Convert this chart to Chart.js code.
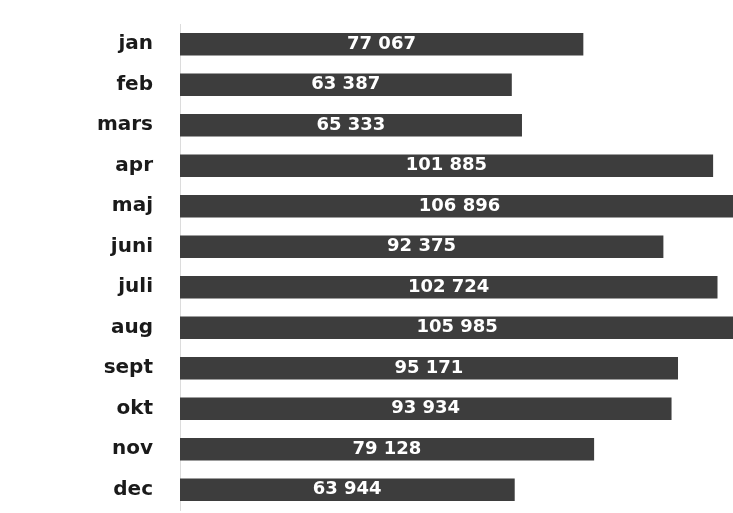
<!DOCTYPE html>
<html>
<head>
<meta charset="utf-8">
<script src="https://cdn.jsdelivr.net/npm/chart.js@4"></script>
<style>
html,body{margin:0;padding:0;background:#fff;overflow:hidden;}
canvas{display:block;}
</style>
</head>
<body>
<canvas id="c" width="733" height="513"></canvas>
<script>
const months = ["jan","feb","mars","apr","maj","juni","juli","aug","sept","okt","nov","dec"];
const values = [77067,63387,65333,101885,106896,92375,102724,105985,95171,93934,79128,63944];
const valueLabels = ["77 067","63 387","65 333","101 885","106 896","92 375","102 724","105 985","95 171","93 934","79 128","63 944"];

const labelPlugin = {
  id: 'barLabels',
  afterDatasetsDraw(chart) {
    const ctx = chart.ctx;
    const meta = chart.getDatasetMeta(0);
    ctx.save();
    ctx.fillStyle = '#ffffff';
    ctx.font = 'bold 18px "DejaVu Sans", sans-serif';
    ctx.textAlign = 'center';
    ctx.textBaseline = 'middle';
    meta.data.forEach((bar, i) => {
      const cx = (bar.base + bar.x) / 2;
      ctx.fillText(valueLabels[i], cx, bar.y);
    });
    ctx.restore();
  }
};

new Chart(document.getElementById('c'), {
  type: 'bar',
  data: {
    labels: months,
    datasets: [{
      data: values,
      backgroundColor: '#3d3d3d',
      barThickness: 22
    }]
  },
  options: {
    indexAxis: 'y',
    responsive: false,
    animation: false,
    layout: { padding: { top: 24, bottom: 3, left: 0, right: 0 } },
    plugins: { legend: { display: false }, tooltip: { enabled: false } },
    scales: {
      x: {
        display: false,
        min: 0,
        max: 105750
      },
      y: {
        afterFit(scale) { scale.width = 180; scale.paddingTop = 0; scale.paddingBottom = 0; },
        grid: { display: false, drawTicks: false },
        border: { display: true, color: '#dcdcdc', width: 1 },
        ticks: {
          padding: 27,
          color: '#1a1a1a',
          font: { family: '"DejaVu Sans", sans-serif', size: 20, weight: 'bold' }
        }
      }
    }
  },
  plugins: [labelPlugin]
});
</script>
</body>
</html>
